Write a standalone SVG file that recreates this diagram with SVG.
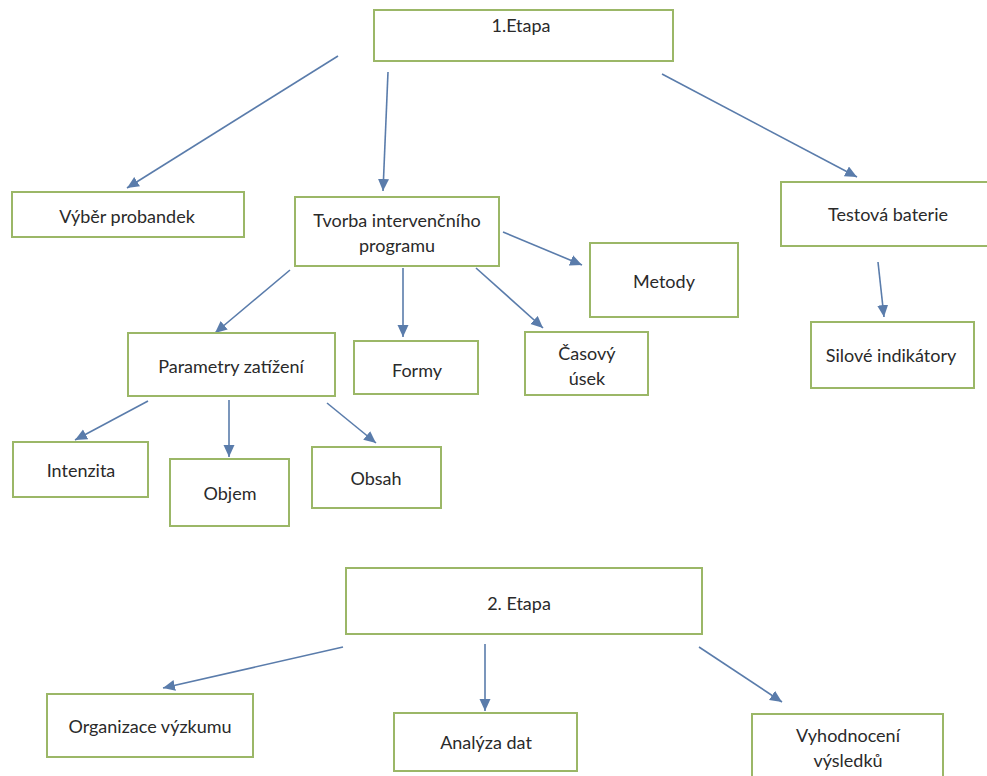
<svg xmlns="http://www.w3.org/2000/svg" width="987" height="776" viewBox="0 0 987 776">
<style>
.box{fill:#ffffff;stroke:#9bb767;stroke-width:2}
.t{font-family:Lato,"Open Sans","DejaVu Sans",sans-serif;font-size:18px;fill:#2a2a2a;text-anchor:middle}
.c{stroke:#5a7cab;stroke-width:1.6;fill:none;marker-end:url(#ah)}
</style>
<defs>
<marker id="ah" markerUnits="userSpaceOnUse" markerWidth="13" markerHeight="12" refX="12" refY="5.5" orient="auto">
<path d="M0,0 L12,5.5 L0,11 z" fill="#5a7cab"/>
</marker>
</defs>
<rect width="987" height="776" fill="#ffffff"/>
<g id="connectors">
<line class="c" x1="338" y1="56" x2="127" y2="188"/>
<line class="c" x1="388" y1="72" x2="383" y2="191"/>
<line class="c" x1="662" y1="74" x2="857" y2="177"/>
<line class="c" x1="878" y1="262" x2="884" y2="317"/>
<line class="c" x1="503" y1="232" x2="582" y2="265"/>
<line class="c" x1="476" y1="268" x2="543" y2="328"/>
<line class="c" x1="403" y1="268" x2="403" y2="337"/>
<line class="c" x1="290" y1="270" x2="215" y2="333"/>
<line class="c" x1="148" y1="401" x2="75" y2="440"/>
<line class="c" x1="229" y1="400" x2="229" y2="457"/>
<line class="c" x1="327" y1="403" x2="376" y2="443"/>
<line class="c" x1="343" y1="647" x2="163" y2="688"/>
<line class="c" x1="485" y1="644" x2="485" y2="711"/>
<line class="c" x1="699" y1="647" x2="782" y2="702"/>
</g>
<g id="etapa1"><rect class="box" x="374" y="10" width="299" height="51"/><text class="t" x="521" y="32">1.Etapa</text></g>
<g id="vyber"><rect class="box" x="12" y="192" width="232" height="45"/><text class="t" x="127" y="223">Výběr probandek</text></g>
<g id="tvorba"><rect class="box" x="295" y="197" width="204" height="69"/><text class="t" x="397" y="227">Tvorba intervenčního</text><text class="t" x="397" y="252">programu</text></g>
<g id="testova"><rect class="box" x="781" y="182" width="210" height="64"/><text class="t" x="888" y="221">Testová baterie</text></g>
<g id="metody"><rect class="box" x="590" y="243" width="148" height="74"/><text class="t" x="664" y="288">Metody</text></g>
<g id="casovy"><rect class="box" x="525" y="332" width="123" height="63"/><text class="t" x="587" y="360">Časový</text><text class="t" x="587" y="385">úsek</text></g>
<g id="silove"><rect class="box" x="811" y="322" width="163" height="66"/><text class="t" x="891" y="362">Silové indikátory</text></g>
<g id="parametry"><rect class="box" x="128" y="333" width="207" height="63"/><text class="t" x="231" y="373">Parametry zatížení</text></g>
<g id="formy"><rect class="box" x="354" y="341" width="124" height="53"/><text class="t" x="417" y="377">Formy</text></g>
<g id="intenzita"><rect class="box" x="13" y="442" width="135" height="55"/><text class="t" x="81" y="477">Intenzita</text></g>
<g id="objem"><rect class="box" x="170" y="459" width="119" height="67"/><text class="t" x="230" y="500">Objem</text></g>
<g id="obsah"><rect class="box" x="312" y="447" width="129" height="61"/><text class="t" x="376" y="485">Obsah</text></g>
<g id="etapa2"><rect class="box" x="346" y="568" width="356" height="66"/><text class="t" x="519" y="610">2. Etapa</text></g>
<g id="organizace"><rect class="box" x="47" y="694" width="206" height="63"/><text class="t" x="150" y="733">Organizace výzkumu</text></g>
<g id="analyza"><rect class="box" x="394" y="713" width="183" height="58"/><text class="t" x="486" y="749">Analýza dat</text></g>
<g id="vyhodnoceni"><rect class="box" x="752" y="714" width="191" height="70"/><text class="t" x="848" y="742">Vyhodnocení</text><text class="t" x="848" y="767">výsledků</text></g>
</svg>
